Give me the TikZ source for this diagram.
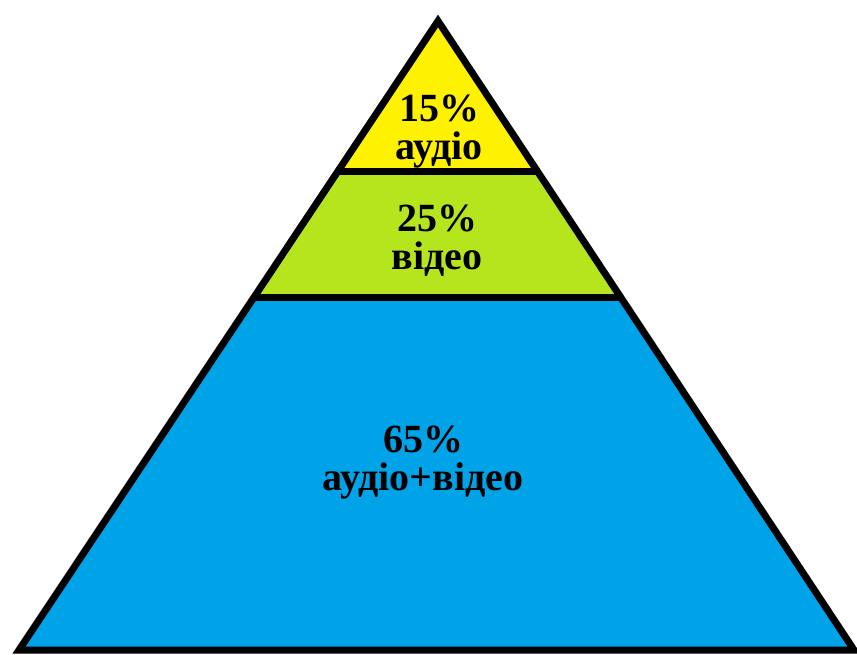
\documentclass[tikz,border=0pt]{standalone}
\usepackage{fontspec}
\setmainfont{Liberation Serif}
\usetikzlibrary{calc}
\definecolor{paintyellow}{HTML}{FFF200}
\definecolor{paintlime}{HTML}{B5E61D}
\definecolor{paintblue}{HTML}{00A2E8}

\begin{document}
\begin{tikzpicture}[
            x=1pt, y=-1pt,
            edge/.style={line width=7pt, line join=miter},
            layertext/.style={
                align=center, inner sep=0pt,
                font=\fontsize{40}{38}\selectfont\bfseries
            }
        ]

            \useasboundingbox (0,0) rectangle (857,655);

            % Corners of the pyramid
            \coordinate (apex) at (438,21);
            \coordinate (bl) at (19,650);
            \coordinate (br) at (854,650);

            % Points where the dividers meet the sides
            \coordinate (l1) at ($(apex)!0.239!(bl)$);
            \coordinate (r1) at ($(apex)!0.239!(br)$);
            \coordinate (l2) at ($(apex)!0.439!(bl)$);
            \coordinate (r2) at ($(apex)!0.439!(br)$);

            % Layers (bottom, middle, top)
            \fill[paintblue] (l2) -- (bl) -- (br) -- (r2) -- cycle;
            \fill[paintlime] (l1) -- (l2) -- (r2) -- (r1) -- cycle;
            \fill[paintyellow] (apex) -- (l1) -- (r1) -- cycle;

            % Outline and dividers
            \draw[edge] (apex) -- (bl) -- (br) -- cycle;
            \draw[edge] (l1) -- (r1);
            \draw[edge] (l2) -- (r2);

            % Texts
            \node[layertext] (top) at (439,132) {15\%\\аудіо};
            \node[layertext] (middle) at (437,241) {25\%\\відео};
            \node[layertext] (bottom) at (423,463) {65\%\\аудіо+відео};

        \end{tikzpicture}
\end{document}
